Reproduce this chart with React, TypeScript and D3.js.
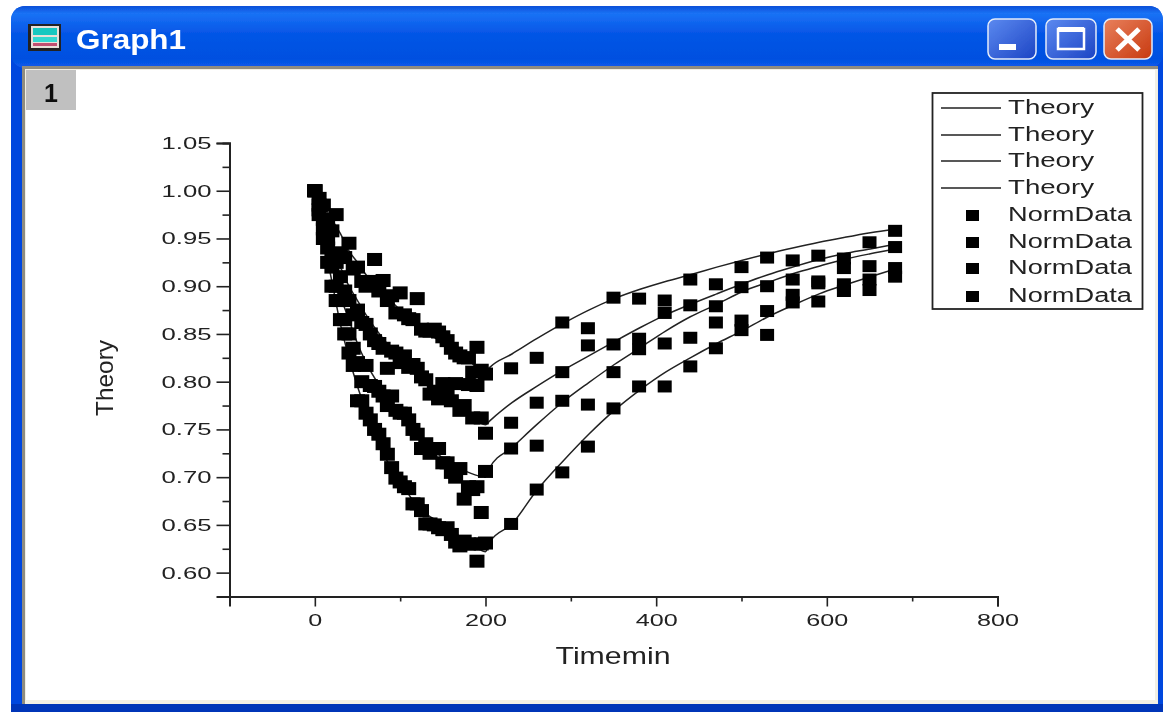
import React, { useEffect, useRef } from "react";
import * as d3 from "d3";

const width = 1163;
const height = 712;

const xTicks = [0, 200, 400, 600, 800];
const xMinorTicks = [-100, 100, 300, 500, 700];
const yTicks = [0.6, 0.65, 0.7, 0.75, 0.8, 0.85, 0.9, 0.95, 1.0, 1.05];
const yMinorTicks = [0.575, 0.625, 0.675, 0.725, 0.775, 0.825, 0.875, 0.925, 0.975, 1.025];

const legendLabels = ["Theory", "Theory", "Theory", "Theory", "NormData", "NormData", "NormData", "NormData"];

// measured times (min): dense while falling, every 30 min while recovering
const fallTimes = [
  0, 5, 10, 15, 20, 25, 30, 35, 40, 45, 50, 55, 60, 65, 70, 75, 80, 85, 90, 95, 100,
  105, 110, 115, 120, 125, 130, 135, 140, 145, 150, 155, 160, 165, 170, 175, 180, 185, 190, 195, 200,
];
const riseTimes = [230, 260, 290, 320, 350, 380, 410, 440, 470, 500, 530, 560, 590, 620, 650, 680];

const fallA = [
  1.0, 0.992, 0.985, 0.965, 0.958, 0.975, 0.935, 0.93, 0.945, 0.918, 0.92, 0.905, 0.9, 0.905, 0.928, 0.895,
  0.906, 0.885, 0.89, 0.872, 0.893, 0.87, 0.866, 0.865, 0.887, 0.855, 0.853, 0.853, 0.855, 0.852, 0.847,
  0.843, 0.835, 0.83, 0.827, 0.825, 0.825, 0.81, 0.836, 0.812, 0.808,
];
const fallB = [
  1.0, 0.985, 0.97, 0.95, 0.93, 0.925, 0.91, 0.895, 0.885, 0.87, 0.875, 0.862, 0.86, 0.85, 0.843, 0.84,
  0.835, 0.814, 0.832, 0.83, 0.82, 0.827, 0.815, 0.818, 0.814, 0.805, 0.802, 0.787, 0.79, 0.782, 0.798,
  0.785, 0.78, 0.798, 0.77, 0.775, 0.797, 0.762, 0.796, 0.762, 0.746,
];
const fallC = [
  1.0, 0.98, 0.96, 0.94, 0.92, 0.9, 0.885, 0.865, 0.85, 0.835, 0.82, 0.8, 0.817, 0.796, 0.795, 0.79,
  0.785, 0.775, 0.785, 0.77, 0.767, 0.767, 0.76, 0.75, 0.745, 0.73, 0.735, 0.725, 0.73, 0.73, 0.715,
  0.715, 0.705, 0.7, 0.709, 0.677, 0.69, 0.687, 0.69, 0.663, 0.706,
];
const fallD = [
  1.0, 0.975, 0.95, 0.925, 0.9, 0.885, 0.865, 0.85, 0.83, 0.817, 0.78, 0.78, 0.767, 0.76, 0.75, 0.745,
  0.735, 0.724, 0.71, 0.699, 0.695, 0.69, 0.688, 0.672, 0.672, 0.665, 0.651, 0.651, 0.65, 0.647, 0.645,
  0.647, 0.64, 0.632, 0.628, 0.633, 0.63, 0.63, 0.612, 0.63, 0.631,
];

const riseA = [0.814, 0.825, 0.862, 0.856, 0.888, 0.887, 0.885, 0.907, 0.902, 0.92, 0.93, 0.927, 0.932, 0.929, 0.946, 0.958];
const riseB = [0.757, 0.778, 0.81, 0.838, 0.839, 0.845, 0.872, 0.88, 0.879, 0.899, 0.9, 0.907, 0.905, 0.919, 0.921, 0.941];
const riseC = [0.73, 0.733, 0.78, 0.776, 0.81, 0.834, 0.84, 0.846, 0.862, 0.864, 0.874, 0.891, 0.903, 0.902, 0.907, 0.919];
const riseD = [0.651, 0.687, 0.705, 0.732, 0.772, 0.795, 0.795, 0.816, 0.835, 0.854, 0.849, 0.883, 0.884, 0.895, 0.896, 0.91];

const theoryTimes = [
  0, 10, 20, 30, 40, 50, 60, 80, 100, 120, 150, 180, 200, 205, 231, 260, 291, 321, 351, 382, 411, 440, 471,
  500, 531, 560, 591, 620, 651, 680,
];
const theoryA = [
  1.0, 0.985, 0.97, 0.955, 0.937, 0.925, 0.912, 0.893, 0.875, 0.86, 0.84, 0.822, 0.81, 0.815, 0.829, 0.845,
  0.861, 0.875, 0.887, 0.897, 0.905, 0.912, 0.92, 0.927, 0.934, 0.94, 0.946, 0.951, 0.956, 0.96,
];
const theoryB = [
  1.0, 0.968, 0.94, 0.92, 0.9, 0.885, 0.87, 0.845, 0.825, 0.805, 0.785, 0.765, 0.755, 0.759, 0.778, 0.795,
  0.812, 0.827, 0.842, 0.857, 0.87, 0.881, 0.892, 0.902, 0.912, 0.92, 0.928, 0.934, 0.939, 0.944,
];
const theoryC = [
  1.0, 0.96, 0.925, 0.89, 0.865, 0.84, 0.82, 0.79, 0.765, 0.745, 0.72, 0.705, 0.7, 0.71, 0.731, 0.755,
  0.779, 0.799, 0.818, 0.836, 0.853, 0.868, 0.881, 0.894, 0.904, 0.913, 0.921, 0.928, 0.934, 0.939,
];
const theoryD = [
  1.0, 0.95, 0.905, 0.86, 0.825, 0.795, 0.77, 0.725, 0.695, 0.67, 0.65, 0.632, 0.622, 0.632, 0.651, 0.686,
  0.717, 0.745, 0.77, 0.792, 0.81, 0.825, 0.84, 0.853, 0.868, 0.88, 0.892, 0.901, 0.91, 0.918,
];

const theorySeries = [theoryA, theoryB, theoryC, theoryD];
const fallSeries = [fallA, fallB, fallC, fallD];
const riseSeries = [riseA, riseB, riseC, riseD];

const x = d3.scaleLinear().domain([-100, 800]).range([229.5, 997.5]);
const y = d3.scaleLinear().domain([0.575, 1.05]).range([596.5, 143]);

const labelFont = "'Liberation Sans', Arial, sans-serif";

const WindowChrome = () => (
  <g>
    <defs>
      <linearGradient id="titleBar" x1="0" y1="0" x2="0" y2="1">
        <stop offset="0" stopColor="#0a4fd8" />
        <stop offset="0.12" stopColor="#1a72f5" />
        <stop offset="0.45" stopColor="#0555e6" />
        <stop offset="0.85" stopColor="#0350e0" />
        <stop offset="1" stopColor="#0a5cec" />
      </linearGradient>
      <linearGradient id="minMax" x1="0" y1="0" x2="1" y2="1">
        <stop offset="0" stopColor="#5c8af0" />
        <stop offset="1" stopColor="#1c44c4" />
      </linearGradient>
      <linearGradient id="closeBtn" x1="0" y1="0" x2="1" y2="1">
        <stop offset="0" stopColor="#e8805c" />
        <stop offset="1" stopColor="#c83a10" />
      </linearGradient>
    </defs>
    <path d="M11,712 V22 Q11,6 27,6 H1148 Q1163,6 1163,22 V712 Z" fill="#0347de" />
    <rect x={11} y={6} width={1152} height={62} rx={14} fill="url(#titleBar)" />
    <rect x={22} y={66} width={1136} height={638} fill="#8f8c80" />
    <rect x={25} y={69} width={1133} height={635} fill="#f2efe4" />
    <rect x={26} y={70} width={1129} height={630} fill="#ffffff" />
    <rect x={11} y={704} width={1152} height={8} fill="#0336b8" />

    {/* app icon */}
    <rect x={28} y={24} width={33} height={27} fill="#222" />
    <rect x={31} y={26} width={28} height={22} fill="#e8e0d8" />
    <rect x={33} y={28} width={24} height={7} fill="#18c8c0" />
    <rect x={33} y={37} width={24} height={5} fill="#30d8d0" />
    <rect x={33} y={43} width={24} height={3} fill="#c05070" />

    <text x={76} y={49} fontFamily={labelFont} fontWeight="bold" fontSize={27} fill="#fff" textLength={110} lengthAdjust="spacingAndGlyphs">
      Graph1
    </text>

    <rect x={988} y={19} width={48} height={40} rx={7} fill="url(#minMax)" stroke="#e4ecfa" strokeWidth={1.5} />
    <rect x={999} y={44} width={17} height={6} fill="#fff" />
    <rect x={1046} y={19} width={50} height={40} rx={7} fill="url(#minMax)" stroke="#e4ecfa" strokeWidth={1.5} />
    <rect x={1058} y={29} width={26} height={20} fill="none" stroke="#fff" strokeWidth={2.5} />
    <rect x={1058} y={27} width={26} height={5} fill="#fff" />
    <rect x={1104} y={19} width={48} height={40} rx={7} fill="url(#closeBtn)" stroke="#e4ecfa" strokeWidth={1.5} />
    <path d="M1117,29 L1139,50 M1139,29 L1117,50" stroke="#fff" strokeWidth={5} />

    <rect x={26} y={70} width={50} height={40} fill="#c0c0c0" />
    <text x={51} y={102} textAnchor="middle" fontFamily={labelFont} fontWeight="bold" fontSize={25} fill="#111">
      1
    </text>
  </g>
);

const App = () => {
  const xAxisRef = useRef<SVGGElement>(null);
  const yAxisRef = useRef<SVGGElement>(null);
  const xMinorRef = useRef<SVGGElement>(null);
  const yMinorRef = useRef<SVGGElement>(null);

  useEffect(() => {
    const xAxis = d3.select(xAxisRef.current!);
    xAxis.call(d3.axisBottom(x).tickValues(xTicks).tickSize(10).tickPadding(7).tickFormat((d) => String(d)) as any);
    xAxis
      .selectAll("text")
      .attr("font-family", labelFont)
      .attr("font-size", 17)
      .attr("fill", "#222")
      .attr("textLength", (d: any) => (String(d).length === 1 ? 14 : 42))
      .attr("lengthAdjust", "spacingAndGlyphs");

    const yAxis = d3.select(yAxisRef.current!);
    yAxis.call(d3.axisLeft(y).tickValues(yTicks).tickSize(13).tickPadding(5).tickFormat(d3.format(".2f") as any) as any);
    yAxis
      .selectAll("text")
      .attr("font-family", labelFont)
      .attr("font-size", 17)
      .attr("fill", "#222")
      .attr("textLength", 50)
      .attr("lengthAdjust", "spacingAndGlyphs");

    d3.select(xMinorRef.current!).call(d3.axisBottom(x).tickValues(xMinorTicks).tickSize(5).tickFormat(() => "") as any);
    d3.select(yMinorRef.current!).call(d3.axisLeft(y).tickValues(yMinorTicks).tickSize(7).tickFormat(() => "") as any);

    d3.selectAll(".axis path, .axis line").attr("stroke", "#222").attr("stroke-width", 1.6);
    d3.selectAll(".axis path.domain").attr("stroke-width", 2);
  }, []);

  const line = d3
    .line<number>()
    .x((_, i) => x(theoryTimes[i]))
    .y((d) => y(d))
    .curve(d3.curveMonotoneX);

  const legendRows = legendLabels.map((label, i) => ({
    label,
    rowY: [108, 135, 161, 188, 215, 242, 268, 296][i],
    isLine: label === "Theory",
  }));

  return (
    <svg
      width={width}
      height={height}
      style={{ position: "absolute", left: 0, top: 0, display: "block", background: "#fff" }}
    >
      <defs>
        <filter id="soft" x="0" y="0" width="100%" height="100%">
          <feGaussianBlur stdDeviation="0.6" />
        </filter>
      </defs>
      <g filter="url(#soft)">
        <WindowChrome />

        <g className="axis" ref={xMinorRef} transform="translate(0,596.5)" />
        <g className="axis" ref={yMinorRef} transform="translate(229.5,0)" />
        <g className="axis" ref={xAxisRef} transform="translate(0,596.5)" />
        <g className="axis" ref={yAxisRef} transform="translate(229.5,0)" />

        <text
          transform="translate(113,378) rotate(-90)"
          textAnchor="middle"
          fontFamily={labelFont}
          fontSize={24}
          fill="#222"
          textLength={76}
          lengthAdjust="spacingAndGlyphs"
        >
          Theory
        </text>
        <text
          x={613}
          y={664}
          textAnchor="middle"
          fontFamily={labelFont}
          fontSize={24}
          fill="#222"
          textLength={115}
          lengthAdjust="spacingAndGlyphs"
        >
          Timemin
        </text>

        {theorySeries.map((s, i) => (
          <path key={i} d={line(s) ?? ""} fill="none" stroke="#222" strokeWidth={1.5} />
        ))}

        {fallSeries.map((s, i) =>
          s.map((v, j) => (
            <rect key={`f${i}-${j}`} x={x(fallTimes[j]) - 7.5} y={y(v) - 6.5} width={15} height={13} fill="#000" />
          ))
        )}
        {riseSeries.map((s, i) =>
          s.map((v, j) => (
            <rect key={`r${i}-${j}`} x={x(riseTimes[j]) - 7} y={y(v) - 6} width={14} height={12} fill="#000" />
          ))
        )}

        <rect x={932.5} y={93} width={210} height={216} fill="#fff" stroke="#222" strokeWidth={1.8} />
        {legendRows.map((row, i) => (
          <g key={i}>
            {row.isLine ? (
              <line x1={941} x2={1001} y1={row.rowY} y2={row.rowY} stroke="#222" strokeWidth={1.5} />
            ) : (
              <rect x={966} y={row.rowY - 5} width={13} height={11} fill="#000" />
            )}
            <text
              x={1008}
              y={row.rowY + 6}
              fontFamily={labelFont}
              fontSize={20}
              fill="#222"
              textLength={row.isLine ? 86 : 124}
              lengthAdjust="spacingAndGlyphs"
            >
              {row.label}
            </text>
          </g>
        ))}
      </g>
    </svg>
  );
};

export default App;
